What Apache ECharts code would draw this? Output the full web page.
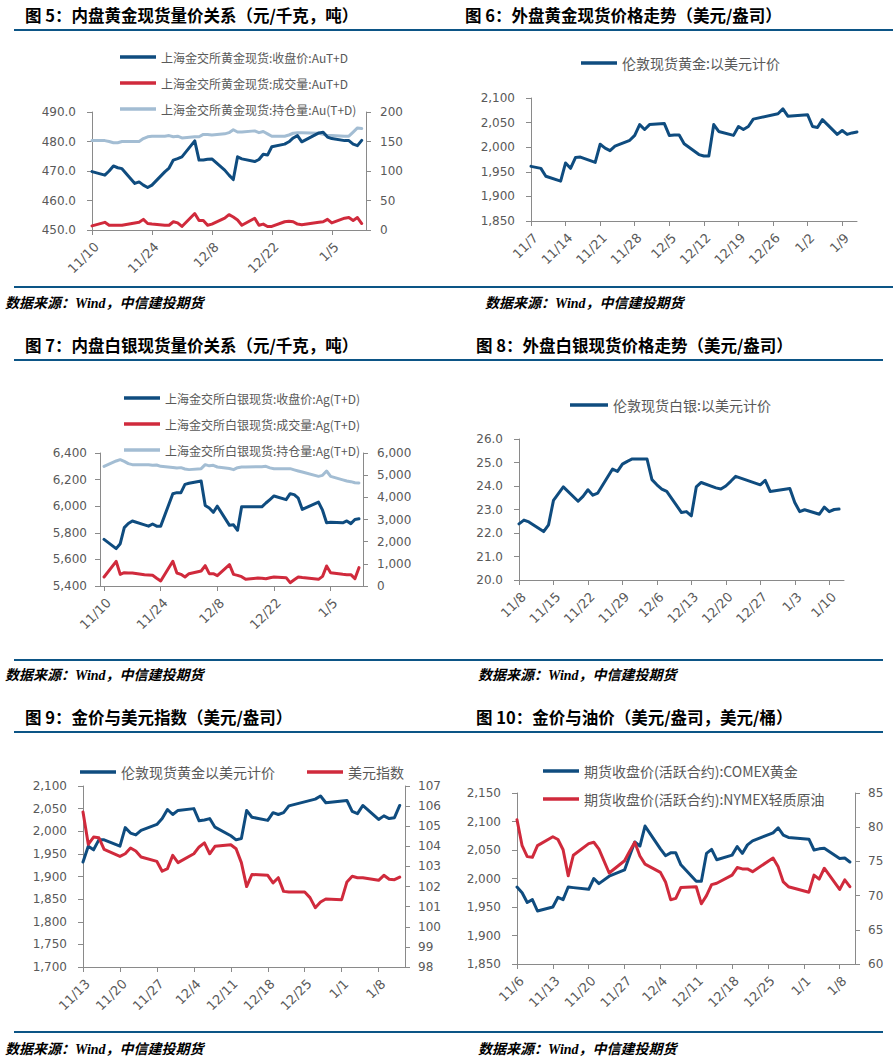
<!DOCTYPE html>
<html><head><meta charset="utf-8">
<script src="https://cdn.jsdelivr.net/npm/echarts@6.0.0/dist/echarts.min.js"></script>
<style>html,body{margin:0;padding:0;background:#fff}#c{width:894px;height:1064px}</style>
</head><body><div id="c"></div>
<script>
// ---------- DATA ----------
const sgeDates = ['11/10','11/13','11/14','11/15','11/16','11/17','11/20','11/21','11/22','11/23','11/24','11/27','11/28','11/29','11/30','12/1','12/4','12/5','12/6','12/7','12/8','12/11','12/12','12/13','12/14','12/15','12/18','12/19','12/20','12/21','12/22','12/25','12/26','12/27','12/28','12/29','1/2','1/3','1/4','1/5','1/8','1/9','1/10','1/11','1/12'];
const auClose = [469.8,468.6,470.0,471.7,471.1,470.8,465.8,466.3,465.2,464.4,465.2,469.7,471.0,473.7,474.2,474.8,480.2,473.7,473.7,474.0,474.1,470.3,468.6,467.1,474.8,474.1,473.2,473.9,475.7,475.4,478.2,479.1,479.9,481.2,482.0,479.9,482.9,483.1,481.5,481.0,480.3,480.3,479.1,478.6,480.4];
const auVolume = [7,13,8,8,8,8,12,13,18,11,10,8,8,14,12,6,28,16,16,8,10,20,26,22,17,8,20,8,10,6,6,14,15,14,10,9,13,14,18,12,20,21,16,21,11];
const auOpenInt = [151.5,151.5,150,148,148,150,150,150,155,158,159,159,160,158,159,156,158,158,162,162,161,163,165,170,166,166,168,165,167,163,159,159,161,164,165,165,164,162,160,160,159,159,166,173,172];
const agClose = [5751,5681,5718,5839,5870,5889,5860,5850,5866,5850,5850,6094,6102,6102,6164,6172,6189,6006,5987,5954,6000,5856,5860,5819,5995,5995,5995,5995,6024,6050,6077,6049,6094,6087,6060,5976,6031,5970,5875,5880,5875,5889,5869,5900,5905];
const agVolume = [406,1113,526,600,590,585,511,500,481,350,226,1113,586,526,406,556,676,917,556,556,466,962,526,481,420,300,360,350,330,370,406,376,150,280,406,380,300,436,902,601,526,511,511,330,827];
const agOpenInt = [5398,5640,5699,5620,5520,5474,5474,5474,5444,5460,5398,5350,5323,5340,5280,5250,5293,5474,5420,5444,5368,5300,5248,5338,5368,5368,5380,5380,5398,5330,5293,5293,5293,5240,5190,5143,4947,4992,5188,4947,4790,4737,4707,4660,4647];

const lbmaGoldDates = ['11/7','11/8','11/9','11/10','11/13','11/14','11/15','11/16','11/17','11/20','11/21','11/22','11/23','11/24','11/27','11/28','11/29','11/30','12/1','12/4','12/5','12/6','12/7','12/8','12/11','12/12','12/13','12/14','12/15','12/18','12/19','12/20','12/21','12/22','12/27','12/28','12/29','1/2','1/3','1/4','1/5','1/8','1/9','1/10','1/11','1/12'];
const lbmaGold = [1961,1959,1957,1941,1931,1968,1957,1979,1980,1969,2006,1998,1993,2002,2014,2024,2046,2036,2046,2048,2024,2025,2025,2007,1985,1982,1982,2046,2032,2024,2042,2036,2042,2057,2068,2078,2063,2066,2042,2040,2056,2026,2034,2026,2029,2031];

const lbmaSilverDates = ['11/8','11/9','11/10','11/13','11/14','11/15','11/16','11/17','11/20','11/21','11/22','11/23','11/24','11/27','11/28','11/29','11/30','12/1','12/4','12/5','12/6','12/7','12/8','12/11','12/12','12/13','12/14','12/15','12/18','12/19','12/20','12/21','12/22','12/27','12/28','12/29','1/2','1/3','1/4','1/5','1/8','1/9','1/10','1/11','1/12'];
const lbmaSilver = [22.39,22.55,22.47,22.06,22.35,23.39,23.68,23.96,23.35,23.56,23.84,23.61,23.70,24.72,24.62,24.93,25.05,25.15,25.15,24.27,24.05,23.87,23.77,22.87,22.91,22.73,23.96,24.15,23.92,23.87,24.0,24.2,24.41,24.05,24.24,23.77,23.89,23.30,22.91,22.99,22.80,23.10,22.91,23.0,23.02];

const goldDates9 = ['11/13','11/14','11/15','11/16','11/17','11/20','11/21','11/22','11/23','11/24','11/27','11/28','11/29','11/30','12/1','12/4','12/5','12/6','12/7','12/8','12/11','12/12','12/13','12/14','12/15','12/18','12/19','12/20','12/21','12/22','12/27','12/28','12/29','1/2','1/3','1/4','1/5','1/8','1/9','1/10','1/11','1/12'];
const gold9 = [1932,1967,1959,1981,1981,1967,2008,1996,1992,2002,2015,2028,2048,2037,2046,2050,2023,2025,2028,2009,1990,1981,1984,2046,2031,2024,2041,2037,2041,2056,2071,2078,2063,2068,2044,2039,2057,2026,2034,2028,2030,2057];
const usdDates = ['11/13','11/14','11/15','11/16','11/17','11/20','11/21','11/22','11/23','11/24','11/27','11/28','11/29','11/30','12/1','12/4','12/5','12/6','12/7','12/8','12/11','12/12','12/13','12/14','12/15','12/18','12/19','12/20','12/21','12/22','12/25','12/26','12/27','12/28','12/29','1/1','1/2','1/3','1/4','1/5','1/8','1/9','1/10','1/11','1/12'];
const usdIndex = [105.71,104.10,104.46,104.43,103.85,103.50,103.63,103.92,103.77,103.47,103.25,102.76,102.89,103.55,103.19,103.63,103.97,104.17,103.63,104.00,104.08,103.88,103.19,102.00,102.60,102.56,102.18,102.44,101.76,101.73,101.73,101.45,100.95,101.23,101.38,101.35,102.23,102.51,102.44,102.44,102.31,102.56,102.36,102.34,102.47];

const comexDates = ['11/6','11/7','11/8','11/9','11/10','11/13','11/14','11/15','11/16','11/17','11/20','11/21','11/22','11/24','11/27','11/28','11/29','11/30','12/1','12/4','12/5','12/6','12/7','12/8','12/11','12/12','12/13','12/14','12/15','12/18','12/19','12/20','12/21','12/22','12/26','12/27','12/28','12/29','1/2','1/3','1/4','1/5','1/8','1/9','1/10'];
const comexGold = [1985,1975,1958,1963,1943,1950,1967,1963,1985,1984,1981,2000,1991,2004,2015,2040,2064,2057,2092,2052,2040,2045,2045,2024,1995,1995,2044,2051,2033,2041,2056,2044,2059,2066,2080,2089,2076,2072,2069,2050,2052,2053,2035,2036,2029];
const nymexOil = [81.1,77.3,75.7,75.6,77.3,78.6,78.2,76.7,72.9,75.9,77.6,77.8,76.8,73.3,75.1,76.5,77.8,75.8,74.6,73.4,72.0,69.4,69.6,71.2,71.3,68.8,70.0,71.6,71.8,73.0,74.1,73.9,73.9,73.5,75.5,74.2,72.0,71.3,70.5,73.0,72.4,74.0,70.9,72.3,71.3];

// tick labels
const ticks5 = ['11/10','11/24','12/8','12/22','1/5'];
const ticks6 = ['11/7','11/14','11/21','11/28','12/5','12/12','12/19','12/26','1/2','1/9'];
const ticks7 = ['11/10','11/24','12/8','12/22','1/5'];
const ticks8 = ['11/8','11/15','11/22','11/29','12/6','12/13','12/20','12/27','1/3','1/10'];
const ticks9 = ['11/13','11/20','11/27','12/4','12/11','12/18','12/25','1/1','1/8'];
const ticks10 = ['11/6','11/13','11/20','11/27','12/4','12/11','12/18','12/25','1/1','1/8'];

const titles = ['图 5：内盘黄金现货量价关系（元/千克，吨）','图 6：外盘黄金现货价格走势（美元/盎司）','图 7：内盘白银现货量价关系（元/千克，吨）','图 8：外盘白银现货价格走势（美元/盎司）','图 9：金价与美元指数（美元/盎司）','图 10：金价与油价（美元/盎司，美元/桶）'];
const sourceText = '数据来源：Wind，中信建投期货';

// ---------- HELPERS ----------
function dayNum(s){const p=s.split('/').map(Number);const y=p[0]>=10?2023:2024;return Date.UTC(y,p[0]-1,p[1])/86400000;}
function fmtDay(v){const dt=new Date(Math.round(v)*86400000);return (dt.getUTCMonth()+1)+'/'+dt.getUTCDate();}
function pairs(dates,vals){return dates.map((s,i)=>[dayNum(s),vals[i]]);}
const comma = v => Number(v).toLocaleString('en-US');
const fix1 = v => Number(v).toFixed(1);
const plain = v => String(v);

const TXT='#595959', AXC='#8a8a8a', BLUE='#0f4c7f', RED='#d02a3c', LBLUE='#a3bdd3', RULE='#0c5586';
const NUMFONT='DejaVu Sans', CJK='"Noto Sans CJK SC"';

function xAx(grid,min,max,ticks){
  const tv=ticks.map(dayNum);
  return {type:'value',gridIndex:grid,min:min,max:max,
    axisLine:{show:true,onZero:false,lineStyle:{color:AXC,width:1}},
    axisTick:{show:true,length:5,inside:false,lineStyle:{color:AXC},customValues:tv},
    axisLabel:{show:true,customValues:tv,rotate:45,margin:10,align:'right',verticalAlign:'top',color:TXT,fontFamily:NUMFONT,fontSize:13,formatter:fmtDay},
    splitLine:{show:false}};
}
function yAx(grid,min,max,interval,pos,fmt,margin){
  return {type:'value',gridIndex:grid,position:pos,min:min,max:max,interval:interval,
    axisLine:{show:true,onZero:false,lineStyle:{color:AXC,width:1}},
    axisTick:{show:true,length:5,inside:false,lineStyle:{color:AXC}},
    axisLabel:{color:TXT,fontFamily:NUMFONT,fontSize:12,margin:margin,formatter:fmt},
    splitLine:{show:false}};
}
function lg(name,left,cy,w,fs){
  return {data:[name],left:left,top:cy-8,padding:0,itemWidth:w,itemHeight:3.5,icon:'rect',selectedMode:false,
    textStyle:{color:TXT,fontSize:fs,fontFamily:'Noto Sans CJK SC',lineHeight:16}};
}
function ln(name,xi,yi,color,data){
  return {type:'line',name:name,xAxisIndex:xi,yAxisIndex:yi,data:data,color:color,showSymbol:false,symbol:'none',
    lineStyle:{width:3,color:color,cap:'round',join:'round'},itemStyle:{color:color},animation:false};
}

const D = dayNum;
const option = {
  animation:false,
  backgroundColor:'#fff',
  grid:[
    {left:92,top:112,width:274,height:118},
    {left:531,top:98,width:326,height:123},
    {left:100,top:453,width:263,height:133},
    {left:519,top:439,width:325,height:141},
    {left:83,top:786,width:322,height:181},
    {left:517,top:793,width:338,height:171}
  ],
  xAxis:[
    xAx(0,D('11/10'),D('11/10')+64,ticks5),
    xAx(1,D('11/7'),D('11/7')+66,ticks6),
    xAx(2,D('11/10')-1,D('11/10')+64,ticks7),
    xAx(3,D('11/8'),D('11/8')+66,ticks8),
    xAx(4,D('11/13'),D('11/13')+61,ticks9),
    xAx(5,D('11/6'),D('11/6')+66,ticks10)
  ],
  yAxis:[
    yAx(0,450,490,10,'left',fix1,16),
    yAx(0,0,200,50,'right',plain,14),
    yAx(1,1850,2100,50,'left',comma,16),
    yAx(2,5400,6400,200,'left',comma,13),
    yAx(2,0,6000,1000,'right',comma,14),
    yAx(3,20,26,1,'left',fix1,16),
    yAx(4,1700,2100,50,'left',comma,16),
    yAx(4,98,107,1,'right',plain,13),
    yAx(5,1850,2150,50,'left',comma,16),
    yAx(5,60,85,5,'right',plain,13)
  ],
  legend:[
    lg('上海金交所黄金现货:收盘价:AuT+D',120,57,36,12),
    lg('上海金交所黄金现货:成交量:AuT+D',120,83,36,12),
    lg('上海金交所黄金现货:持仓量:Au(T+D)',120,109,36,12),
    lg('伦敦现货黄金:以美元计价',581,63,36,14),
    lg('上海金交所白银现货:收盘价:Ag(T+D)',124,398,36,12),
    lg('上海金交所白银现货:成交量:Ag(T+D)',124,424,36,12),
    lg('上海金交所白银现货:持仓量:Ag(T+D)',124,450,36,12),
    lg('伦敦现货白银:以美元计价',570,405,38,14),
    lg('伦敦现货黄金以美元计价',80,772,36,14),
    lg('美元指数',307,772,36,14),
    lg('期货收盘价(活跃合约):COMEX黄金',543,771,36,14),
    lg('期货收盘价(活跃合约):NYMEX轻质原油',543,799,36,14)
  ],
  series:[
    ln('上海金交所黄金现货:持仓量:Au(T+D)',0,1,LBLUE,pairs(sgeDates,auOpenInt)),
    ln('上海金交所黄金现货:成交量:AuT+D',0,1,RED,pairs(sgeDates,auVolume)),
    ln('上海金交所黄金现货:收盘价:AuT+D',0,0,BLUE,pairs(sgeDates,auClose)),
    ln('伦敦现货黄金:以美元计价',1,2,BLUE,pairs(lbmaGoldDates,lbmaGold)),
    ln('上海金交所白银现货:持仓量:Ag(T+D)',2,4,LBLUE,pairs(sgeDates,agOpenInt)),
    ln('上海金交所白银现货:成交量:Ag(T+D)',2,4,RED,pairs(sgeDates,agVolume)),
    ln('上海金交所白银现货:收盘价:Ag(T+D)',2,3,BLUE,pairs(sgeDates,agClose)),
    ln('伦敦现货白银:以美元计价',3,5,BLUE,pairs(lbmaSilverDates,lbmaSilver)),
    ln('伦敦现货黄金以美元计价',4,6,BLUE,pairs(goldDates9,gold9)),
    ln('美元指数',4,7,RED,pairs(usdDates,usdIndex)),
    ln('期货收盘价(活跃合约):COMEX黄金',5,8,BLUE,pairs(comexDates,comexGold)),
    ln('期货收盘价(活跃合约):NYMEX轻质原油',5,9,RED,pairs(comexDates,nymexOil))
  ],
  graphic:[]
};

// rules
[[14,29,879],[14,286,879],[14,359,869],[14,659,869],[14,731,869],[14,1031,869]].forEach(r=>{
  option.graphic.push({type:'rect',silent:true,shape:{x:r[0],y:r[1],width:r[2],height:2},style:{fill:RULE}});
});
// titles
[[25,15],[465,15],[25,345],[476,345],[25,717],[476,717]].forEach((p,i)=>{
  option.graphic.push({type:'text',silent:true,x:p[0],y:p[1],style:{text:titles[i],font:'bold 16.5px '+CJK,fill:'#000',verticalAlign:'middle',align:'left'}});
});
// sources
[[5,303],[485,303],[5,675],[478,675],[5,1049],[478,1049]].forEach(p=>{
  option.graphic.push({type:'text',silent:true,x:p[0],y:p[1],style:{text:sourceText,font:'italic bold 14px "Liberation Serif", '+CJK,fill:'#000',verticalAlign:'middle',align:'left'}});
});

const chart = echarts.init(document.getElementById('c'),null,{renderer:'svg',width:894,height:1064});
chart.setOption(option);
</script></body></html>
